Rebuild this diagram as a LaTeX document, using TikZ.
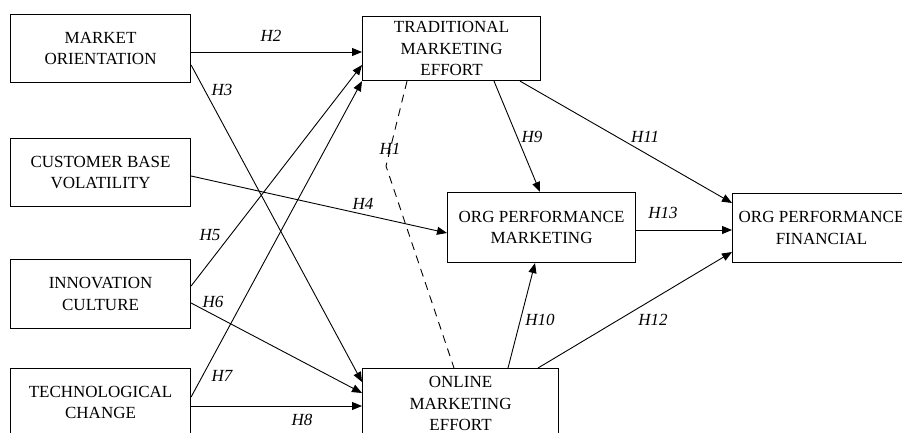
\documentclass[tikz,border=0pt]{standalone}
\usepackage{fontspec}
\setmainfont{Liberation Serif}
\usetikzlibrary{arrows.meta,calc}
\begin{document}
\begin{tikzpicture}[x=1pt,y=-1pt,
  box/.style={draw,line width=1.1pt,anchor=north west,inner sep=0pt,align=center,
    font=\fontsize{17}{21.5}\selectfont},
  conn/.style={line width=0.9pt,-{Triangle[length=10pt,width=8pt]}},
  hyp/.style={font=\fontsize{17}{20}\selectfont\itshape,inner sep=0pt}]
\useasboundingbox (0,0) rectangle (902,432);
\clip (0,0) rectangle (902,432);
% boxes
\node[box,minimum width=180pt,minimum height=68pt] (mo) at (10,14) {MARKET\\ORIENTATION};
\node[box,minimum width=180pt,minimum height=68pt] (cbv) at (10,138) {CUSTOMER BASE\\VOLATILITY};
\node[box,minimum width=180pt,minimum height=69pt] (ic) at (10,259) {INNOVATION\\CULTURE};
\node[box,minimum width=180pt,minimum height=68pt] (tc) at (10,368) {TECHNOLOGICAL\\CHANGE};
\node[box,minimum width=178pt,minimum height=64pt] (tme) at (362,16) {TRADITIONAL\\MARKETING\\EFFORT};
\node[box,minimum width=188pt,minimum height=70pt] (opm) at (447,192) {ORG PERFORMANCE\\MARKETING};
\node[box,minimum width=178pt,minimum height=69pt] (opf) at (732,193) {ORG PERFORMANCE\\FINANCIAL};
\node[box,minimum width=196pt,minimum height=70pt] (ome) at (362,368) {ONLINE\\MARKETING\\EFFORT};
% connectors
\draw[conn] ($(mo.north east)+(0,38)$) -- ($(tme.north west)+(0,36)$);
\draw[conn] ($(mo.north east)+(0,51)$) -- ($(ome.north west)+(0,14)$);
\draw[conn] ($(cbv.north east)+(0,38)$) -- ($(opm.north west)+(0,41)$);
\draw[conn] ($(ic.north east)+(0,27)$) -- ($(tme.north west)+(0,49)$);
\draw[conn] ($(ic.north east)+(0,44)$) -- ($(ome.north west)+(0,25)$);
\draw[conn] ($(tc.north east)+(0,29)$) -- (tme.south west);
\draw[conn] ($(tc.north east)+(0,38)$) -- ($(ome.north west)+(0,38)$);
\draw[conn] ($(tme.south west)+(132,0)$) -- ($(opm.north west)+(93,0)$);
\draw[conn] ($(tme.south west)+(158,0)$) -- ($(opf.north west)+(0,10)$);
\draw[conn] ($(opm.north east)+(0,38)$) -- ($(opf.north west)+(0,37)$);
\draw[conn] ($(ome.north west)+(146,0)$) -- ($(opm.south west)+(88,0)$);
\draw[conn] ($(ome.north west)+(176,0)$) -- ($(opf.north west)+(0,59)$);
\coordinate (h1bend) at (386,166);
\draw[line width=0.9pt,dash pattern=on 8pt off 6pt] ($(tme.south west)+(45,0)$) -- (h1bend) -- ($(ome.north west)+(92,0)$);
% labels
\node[hyp] (l2) at (271,36) {H2};
\node[hyp] (l3) at (222,90) {H3};
\node[hyp] (l1) at (390,149) {H1};
\node[hyp] (l4) at (363,204) {H4};
\node[hyp] (l5) at (210,235) {H5};
\node[hyp] (l6) at (213,302) {H6};
\node[hyp] (l7) at (222,376) {H7};
\node[hyp] (l8) at (302,420) {H8};
\node[hyp] (l9) at (532,137) {H9};
\node[hyp] (l11) at (645,137) {H11};
\node[hyp] (l13) at (663,213) {H13};
\node[hyp] (l10) at (540,320) {H10};
\node[hyp] (l12) at (653,320) {H12};
\end{tikzpicture}
\end{document}
